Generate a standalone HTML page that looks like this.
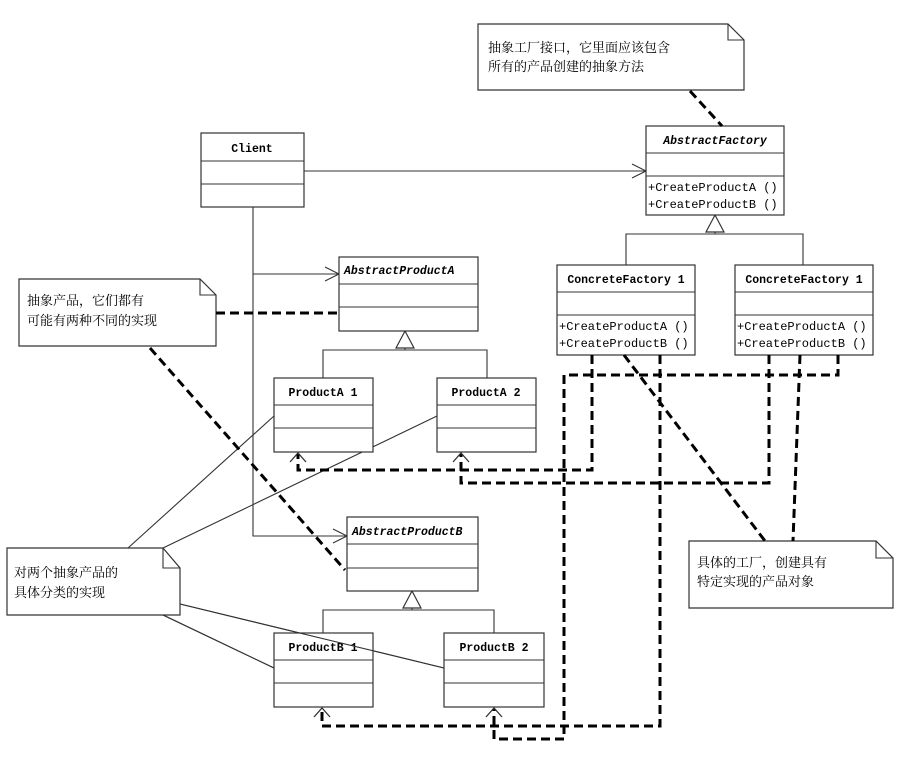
<!DOCTYPE html>
<html><head><meta charset="utf-8"><style>
html,body{margin:0;padding:0;background:#fff;}
svg{display:block;}
text{font-family:"Liberation Mono","Noto Serif CJK SC",monospace;fill:#000;}
.t{font-size:11.5px;font-weight:bold;}
.i{font-size:11.5px;font-style:italic;font-weight:bold;}
.m{font-size:12px;}
.n{font-size:13px;font-family:"Liberation Serif","Noto Serif CJK SC",serif;}
.b{fill:#fff;stroke:#333;stroke-width:1.2;}
.l{stroke:#333;stroke-width:1.1;fill:none;}
.d{stroke:#000;stroke-width:3;stroke-dasharray:9,5;fill:none;}
</style></head><body>
<svg width="900" height="767" viewBox="0 0 900 767">
<!-- Notes -->
<path class="b" d="M478,24 H728 L744,40 V90 H478 Z"/><path class="l" d="M728,24 V40 H744"/>
<text class="n" x="488" y="52">抽象工厂接口，它里面应该包含</text>
<text class="n" x="488" y="71">所有的产品创建的抽象方法</text>
<path class="b" d="M19,279 H200 L216,295 V346 H19 Z"/><path class="l" d="M200,279 V295 H216"/>
<text class="n" x="27" y="305">抽象产品，它们都有</text>
<text class="n" x="27" y="325">可能有两种不同的实现</text>
<path class="b" d="M7,548 H163 L180,568 V615 H7 Z"/><path class="l" d="M163,548 V568 H180"/>
<text class="n" x="14" y="577">对两个抽象产品的</text>
<text class="n" x="14" y="597">具体分类的实现</text>
<path class="b" d="M689,541 H876 L893,558 V608 H689 Z"/><path class="l" d="M876,541 V558 H893"/>
<text class="n" x="697" y="567">具体的工厂，创建具有</text>
<text class="n" x="697" y="586">特定实现的产品对象</text>

<!-- solid association lines -->
<path class="l" d="M304,171 H646 M632,164 L646,171 L632,178"/>
<path class="l" d="M253,207 V536 H347 M253,274 H339 M325,267 L339,274 L325,281 M333,529 L347,536 L333,543"/>
<path class="l" d="M128,548 L274,416 M163,548 L437,416 M180,604 L444,668 M163,615 L274,668"/>
<!-- inheritance -->
<path class="l" d="M715,232 V234 M626,265 V234 H803 V265"/><path class="b" d="M715,215 L706,232 H724 Z"/>
<path class="l" d="M405,348 V350 M323,378 V350 H487 V378"/><path class="b" d="M405,331 L396,348 H414 Z"/>
<path class="l" d="M412,608 V610 M323,633 V610 H494 V633"/><path class="b" d="M412,591 L403,608 H421 Z"/>

<!-- classes -->
<rect class="b" x="201" y="133" width="103" height="74"/><path class="l" d="M201,161 H304 M201,184 H304"/>
<text class="t" x="252" y="152" text-anchor="middle">Client</text>
<rect class="b" x="646" y="126" width="138" height="89"/><path class="l" d="M646,153 H784 M646,176 H784"/>
<text class="i" x="715" y="144" text-anchor="middle">AbstractFactory</text>
<text class="m" x="648" y="191">+CreateProductA ()</text><text class="m" x="648" y="208">+CreateProductB ()</text>
<rect class="b" x="557" y="265" width="138" height="90"/><path class="l" d="M557,292 H695 M557,315 H695"/>
<text class="t" x="626" y="283" text-anchor="middle">ConcreteFactory 1</text>
<text class="m" x="559" y="330">+CreateProductA ()</text><text class="m" x="559" y="347">+CreateProductB ()</text>
<rect class="b" x="735" y="265" width="138" height="90"/><path class="l" d="M735,292 H873 M735,315 H873"/>
<text class="t" x="804" y="283" text-anchor="middle">ConcreteFactory 1</text>
<text class="m" x="737" y="330">+CreateProductA ()</text><text class="m" x="737" y="347">+CreateProductB ()</text>
<rect class="b" x="339" y="257" width="139" height="74"/><path class="l" d="M339,284 H478 M339,307 H478"/>
<text class="i" x="344" y="274">AbstractProductA</text>
<rect class="b" x="274" y="378" width="99" height="74"/><path class="l" d="M274,405 H373 M274,428 H373"/>
<text class="t" x="323" y="396" text-anchor="middle">ProductA 1</text>
<rect class="b" x="437" y="378" width="99" height="74"/><path class="l" d="M437,405 H536 M437,428 H536"/>
<text class="t" x="486" y="396" text-anchor="middle">ProductA 2</text>
<rect class="b" x="347" y="517" width="131" height="74"/><path class="l" d="M347,544 H478 M347,568 H478"/>
<text class="i" x="352" y="535">AbstractProductB</text>
<rect class="b" x="274" y="633" width="99" height="74"/><path class="l" d="M274,660 H373 M274,683 H373"/>
<text class="t" x="323" y="651" text-anchor="middle">ProductB 1</text>
<rect class="b" x="444" y="633" width="100" height="74"/><path class="l" d="M444,660 H544 M444,683 H544"/>
<text class="t" x="494" y="651" text-anchor="middle">ProductB 2</text>
<path class="l" d="M163,615 L274,668"/>
<path class="l" d="M180,604 L444,668"/>

<!-- dashed note links -->
<path class="d" d="M690,91 L722,126"/>
<path class="d" d="M216,313 H339"/>
<path class="d" d="M150,348 L345,570"/>
<path class="d" d="M624,355 L765,541"/>
<path class="d" d="M800,355 L793,541"/>
<!-- dependencies -->
<path class="d" d="M592,355 V470 H298 V454"/>
<path class="d" d="M769,355 V483 H461 V454"/>
<path class="d" d="M660,355 V726 H322 V709"/>
<path class="d" d="M838,355 V375 H564 V739 H494 V709"/>
<path class="l" d="M290,462 L298,453 L306,462 M453,462 L461,453 L469,462 M314,717 L322,708 L330,717 M486,717 L494,708 L502,717" style="stroke-width:1.3"/>
</svg>
</body></html>
